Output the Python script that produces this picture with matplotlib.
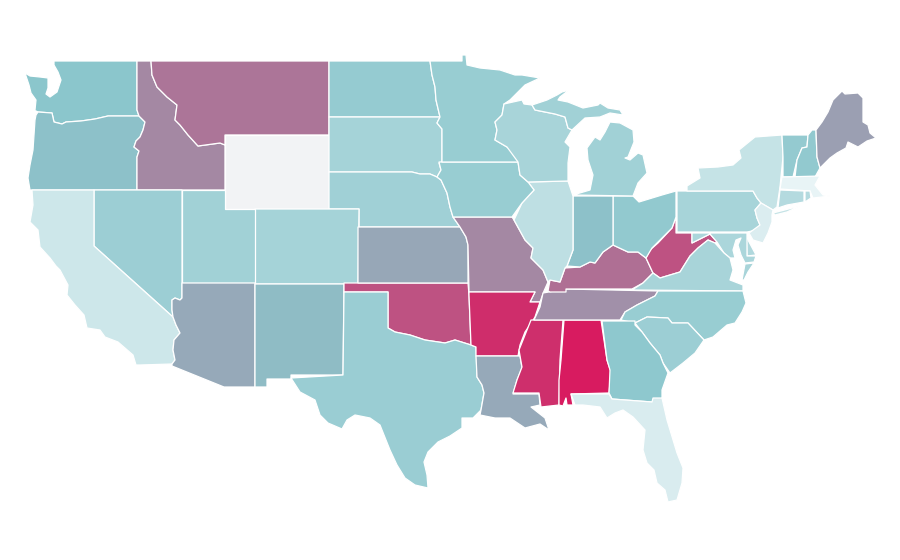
# US choropleth, state outlines in image pixels
import numpy as np
import matplotlib.pyplot as plt
from matplotlib.collections import PolyCollection
from matplotlib.colors import LinearSegmentedColormap, Normalize

WA = [(54,61),(137,61),(137,110),(139,116),(108,116),(95,119),(81,121),(66,122),(62,124),(54,122),(52,113),(38,112),(36,111),(35,116),(35,110),(36,100),(31,93),(29,85),(25,73),(30,76),(40,77),(48,78),(48,88),(46,94),(50,97),(57,92),(61,80),(58,72),(54,65)]
OR = [(36,115),(38,112),(52,113),(54,122),(62,124),(66,122),(81,121),(95,119),(108,116),(139,116),(145,122),(143,130),(140,137),(136,141),(134,147),(139,151),(137,157),(137,190),(30,190),(28,178),(30,165),(33,150),(34,135),(35,120)]
ID = [(137,61),(151,61),(152,75),(157,87),(167,97),(177,105),(175,120),(180,125),(188,135),(198,146),(220,143),(225,145),(225,190),(137,190),(137,157),(139,151),(134,147),(136,141),(140,137),(143,130),(145,122),(139,116),(137,110)]
MT = [(151,61),(329,61),(329,135),(225,135),(225,145),(220,143),(198,146),(188,135),(180,125),(175,120),(177,105),(167,97),(157,87),(152,75)]
WY = [(225,135),(329,135),(329,209),(225,209)]
ND = [(329,61),(430,61),(432,75),(435,87),(436,100),(440,117),(329,117)]
SD = [(329,117),(440,117),(437,123),(442,129),(442,162),(439,163),(441,170),(437,177),(430,174),(420,174),(412,172),(329,172)]
NE = [(329,172),(412,172),(420,174),(430,174),(437,177),(441,180),(447,193),(450,207),(453,217),(460,227),(359,227),(359,209),(329,209)]
CO = [(255,209),(359,209),(358,284),(255,284)]
UT = [(182,190),(225,190),(225,209),(255,209),(255,283),(182,283)]
NV = [(94,190),(182,190),(182,298),(180,300),(175,298),(172,300),(172,310),(173,317),(94,246)]
CA = [(32,190),(94,190),(94,246),(173,317),(176,325),(180,333),(174,340),(173,350),(175,360),(172,364),(140,365),(136,365),(133,355),(118,342),(105,337),(100,330),(87,328),(84,315),(75,305),(67,295),(68,285),(60,270),(56,266),(50,258),(40,247),(38,230),(30,222),(33,205)]
AZ = [(182,283),(255,283),(255,387),(224,387),(172,366),(172,364),(175,360),(173,350),(174,340),(180,333),(176,325),(173,317),(172,310),(172,300),(175,298),(180,300),(182,298)]
NM = [(255,284),(344,284),(343,375),(291,375),(291,379),(267,379),(267,387),(255,387)]
OK = [(344,283),(468,283),(469,295),(471,345),(455,340),(445,343),(425,340),(410,335),(395,332),(388,328),(388,292),(344,292)]
TX = [(344,292),(388,292),(388,328),(395,332),(410,335),(425,340),(445,343),(455,340),(471,345),(476,347),(477,377),(482,385),(484,393),(481,410),(473,418),(462,418),(462,428),(450,436),(438,442),(428,452),(424,462),(427,475),(428,488),(415,485),(405,478),(397,465),(390,450),(380,425),(370,418),(355,415),(347,420),(342,429),(328,423),(320,415),(315,400),(300,392),(291,378),(343,375)]
KS = [(358,227),(460,227),(466,237),(468,245),(468,283),(358,283)]
MO = [(453,217),(512,217),(514,220),(525,240),(533,248),(531,258),(543,270),(548,282),(544,291),(540,302),(530,302),(535,292),(469,292),(468,245),(466,237),(460,227)]
AR = [(469,292),(535,292),(530,302),(540,302),(535,317),(532,322),(525,332),(520,345),(518,356),(476,356),(476,347),(471,345),(469,295)]
LA = [(476,356),(520,356),(522,368),(517,380),(513,394),(539,394),(540,405),(531,407),(545,418),(549,430),(540,424),(525,428),(510,418),(495,418),(480,415),(481,410),(484,393),(482,385),(477,377)]
MS = [(531,320),(563,320),(560,360),(559,405),(541,407),(539,393),(513,393),(517,380),(522,367),(519,350),(525,335)]
AL = [(564,320),(601,320),(607,360),(611,372),(609,393),(571,394),(573,405),(567,405),(566,398),(563,406),(559,405),(559,380),(561,360)]
TN = [(543,293),(566,289),(658,291),(655,296),(647,300),(637,305),(625,312),(620,320),(534,320),(540,307)]
KY = [(548,291),(550,280),(560,282),(565,268),(580,267),(590,262),(595,263),(603,252),(613,245),(628,252),(638,252),(646,258),(653,273),(643,283),(632,289),(566,289),(566,292),(550,292)]
WV = [(676,217),(676,233),(692,233),(692,243),(710,234),(717,242),(715,243),(708,240),(698,248),(690,256),(680,272),(660,278),(653,273),(646,258),(650,250),(658,243),(672,228)]
OH = [(613,196),(633,196),(639,202),(662,195),(676,191),(676,217),(672,228),(658,242),(652,248),(646,258),(638,252),(628,252),(613,245)]
IN = [(573,196),(613,196),(613,245),(603,252),(595,263),(590,262),(580,267),(567,266),(573,250)]
IL = [(528,182),(568,181),(573,196),(573,250),(567,266),(565,268),(560,282),(550,280),(548,282),(543,270),(531,258),(533,248),(525,240),(514,220),(522,203),(534,190)]
IA = [(439,162),(518,162),(520,175),(528,182),(534,190),(522,203),(512,217),(453,217),(450,207),(447,193),(441,180),(437,177),(441,170)]
MN = [(430,61),(462,61),(462,55),(466,55),(467,65),(480,68),(500,70),(515,75),(522,75),(540,78),(525,85),(510,100),(504,104),(502,115),(495,122),(497,130),(495,140),(507,147),(517,155),(518,162),(442,162),(442,129),(437,123),(440,117),(436,100),(435,87),(432,75)]
WI = [(504,104),(522,100),(524,104),(532,105),(535,110),(555,114),(565,117),(568,128),(572,130),(565,142),(570,147),(568,163),(568,181),(528,182),(520,175),(518,162),(507,147),(495,140),(497,130),(495,122),(502,115)]
MI_UP = [(532,105),(547,100),(557,95),(562,92),(569,90),(560,97),(558,100),(568,102),(583,108),(598,105),(600,103),(608,108),(620,110),(623,115),(610,113),(600,117),(585,118),(572,130),(568,128),(565,117),(555,114),(535,110)]
MI_LP = [(610,122),(620,123),(633,130),(634,142),(628,157),(625,158),(630,160),(638,153),(643,155),(647,173),(638,183),(633,196),(573,195),(590,190),(593,175),(588,160),(587,148),(595,137),(600,140),(605,132)]
PA = [(677,191),(687,191),(753,191),(757,198),(761,203),(755,210),(757,218),(760,225),(757,230),(747,232),(677,232)]
NY = [(687,186),(700,178),(698,168),(718,167),(733,165),(741,158),(739,150),(755,137),(782,135),(783,157),(780,187),(777,207),(773,210),(761,203),(757,198),(753,191),(687,191)]
NY_LI = [(773,213),(800,206),(787,212),(775,215)]
VT = [(782,135),(808,135),(807,147),(802,148),(797,160),(793,177),(783,177),(783,157)]
NH = [(812,130),(816,130),(817,157),(820,168),(815,177),(795,177),(797,160),(802,148),(807,147),(808,135)]
ME = [(816,130),(822,122),(828,112),(833,100),(842,91),(845,94),(858,93),(863,98),(863,122),(868,125),(870,133),(876,138),(867,141),(858,147),(848,142),(846,148),(837,153),(830,158),(820,168),(817,157)]
MA = [(782,177),(820,176),(815,185),(823,195),(830,196),(822,197),(813,198),(810,191),(780,189)]
CT = [(780,190),(804,191),(804,202),(787,205),(778,208)]
RI = [(805,191),(810,191),(811,198),(805,202)]
NJ = [(761,203),(773,210),(772,215),(772,222),(768,233),(763,243),(753,240),(749,233),(760,225),(757,218),(755,210)]
DE = [(746,233),(748,240),(756,255),(747,256)]
MD = [(692,233),(747,233),(747,256),(756,256),(754,262),(745,263),(741,255),(738,245),(741,238),(736,240),(733,250),(735,258),(730,258),(724,253),(717,242),(710,234),(692,243)]
VA = [(632,290),(643,283),(653,273),(660,278),(680,272),(690,256),(698,248),(708,240),(715,243),(724,253),(730,258),(733,270),(730,280),(743,285),(743,291)]
VA_SHORE = [(745,264),(754,263),(748,272),(744,280),(742,280)]
NC = [(658,291),(743,291),(746,303),(742,312),(735,323),(727,325),(713,337),(704,340),(688,323),(672,323),(668,318),(647,317),(635,323),(621,320),(625,312),(637,305),(647,300),(655,296)]
SC = [(635,323),(647,317),(668,318),(672,323),(688,323),(704,340),(695,353),(683,363),(670,373),(663,363),(660,355),(650,343),(642,332)]
GA = [(602,321),(635,321),(635,325),(642,332),(650,343),(660,355),(663,363),(668,373),(662,390),(662,398),(653,405),(652,402),(612,399),(609,393),(610,370),(607,360)]
FL = [(571,394),(609,394),(612,399),(652,402),(653,398),(662,398),(667,420),(677,453),(683,468),(682,483),(677,500),(668,502),(665,490),(657,483),(654,470),(647,463),(643,450),(645,430),(633,417),(623,410),(615,413),(607,418),(600,407),(583,405),(575,405)]

outlines = [WA, OR, ID, MT, WY, ND, SD, NE, CO, UT, NV, CA, AZ, NM, OK, TX, KS, MO, AR, LA, MS, AL, TN, KY, WV, OH, IN, IL, IA, MN, WI, MI_UP, MI_LP, PA, NY, NY_LI, VT, NH, ME, MA, CT, RI, NJ, DE, MD, VA, VA_SHORE, NC, SC, GA, FL]
# 0-1 shade per outline, read from the fill colours; WY has no data
values = [0.33, 0.36, 0.63, 0.70, np.nan, 0.295, 0.241, 0.255, 0.241, 0.252, 0.27, 0.096, 0.50, 0.39, 0.82, 0.28, 0.51, 0.63, 0.94, 0.50, 0.93, 1.0, 0.60, 0.72, 0.82, 0.305, 0.36, 0.149, 0.284, 0.284, 0.23, 0.252, 0.252, 0.234, 0.128, 0.128, 0.30, 0.305, 0.54, 0.0, 0.185, 0.185, 0.05, 0.20, 0.216, 0.23, 0.23, 0.284, 0.27, 0.32, 0.057]

shade_stops = [0.0, 0.33, 0.5, 0.7, 1.0]
shade_colors = ["#E8F4F6", "#8BC6CC", "#96AAB9", "#AC7698", "#D81B60"]

cmap = LinearSegmentedColormap.from_list("shades", list(zip(shade_stops, shade_colors)))
cmap.set_bad("#F2F3F5")

fig = plt.figure(figsize=(9, 5.6), dpi=100)
ax = fig.add_axes([0, 0, 1, 1])

states = PolyCollection(
    [np.array(o) for o in outlines],
    array=np.ma.masked_invalid(values),
    cmap=cmap,
    norm=Normalize(0, 1),
    edgecolors="white",
    linewidths=0.9,
)
ax.add_collection(states)

ax.set_xlim(0, 900)
ax.set_ylim(560, 0)
ax.axis("off")

fig.savefig("out.png", dpi=100)
